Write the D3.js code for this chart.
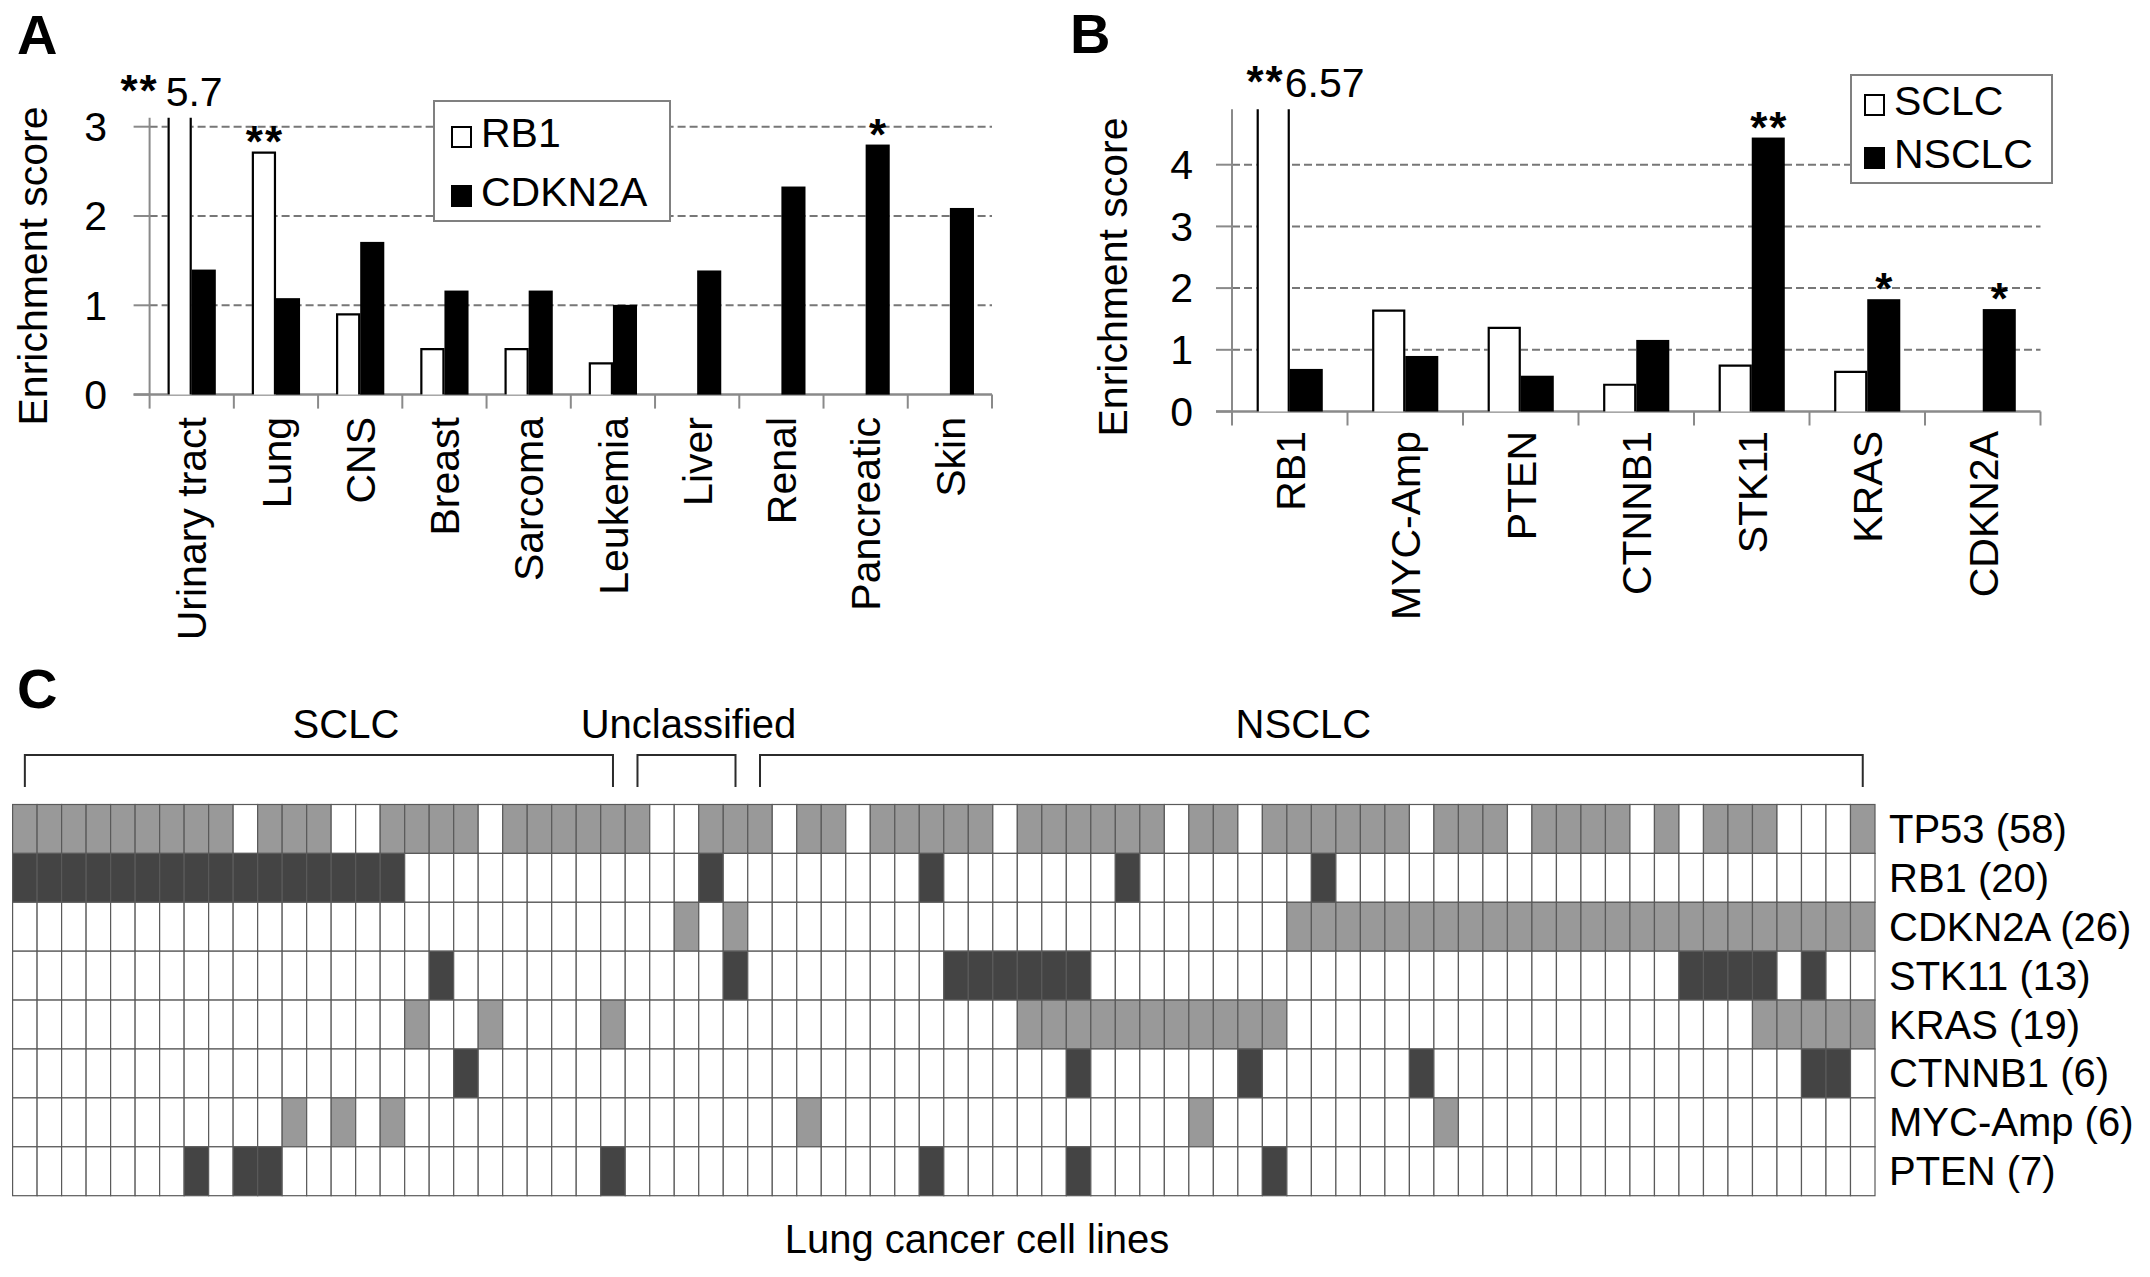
<!DOCTYPE html>
<html><head><meta charset="utf-8">
<script src="https://cdn.jsdelivr.net/npm/d3@7"></script>
<style>
html,body{margin:0;padding:0;background:#fff;}
svg{display:block;}
text{font-family:"Liberation Sans",Arial,Helvetica,sans-serif;fill:#000;}
</style>
</head><body>
<svg id="chart" width="2150" height="1277"></svg>
<script>
// ---------------- Panel A data ----------------
const tissues = ["Urinary tract","Lung","CNS","Breast","Sarcoma","Leukemia","Liver","Renal","Pancreatic","Skin"];
const seriesA = ["RB1","CDKN2A"];
const rb1Scores    = [5.7, 2.72, 0.91, 0.52, 0.52, 0.36, 0, 0, 0, 0];
const cdkn2aScores = [1.40, 1.08, 1.71, 1.165, 1.165, 1.005, 1.39, 2.33, 2.80, 2.09];
const sigA = [
  {cat:"Urinary tract", series:"RB1", mark:"**"},
  {cat:"Lung", series:"RB1", mark:"**"},
  {cat:"Pancreatic", series:"CDKN2A", mark:"*"}
];
const ticksA = [0,1,2,3];

// ---------------- Panel B data ----------------
const genesB = ["RB1","MYC-Amp","PTEN","CTNNB1","STK11","KRAS","CDKN2A"];
const seriesB = ["SCLC","NSCLC"];
const sclcScores  = [6.57, 1.65, 1.37, 0.45, 0.76, 0.66, 0];
const nsclcScores = [0.69, 0.90, 0.58, 1.16, 4.44, 1.82, 1.66];
const sigB = [
  {cat:"RB1", series:"SCLC", mark:"**"},
  {cat:"STK11", series:"NSCLC", mark:"**"},
  {cat:"KRAS", series:"NSCLC", mark:"*"},
  {cat:"CDKN2A", series:"NSCLC", mark:"*"}
];
const ticksB = [0,1,2,3,4];

// ---------------- Panel C data ----------------
const cellLineCount = 76;
const subtypeNames = ["SCLC","Unclassified","NSCLC"];
const subtypeFirst = [0, 25, 30];
const subtypeLast  = [24, 29, 75];
const genesC = ["TP53","RB1","CDKN2A","STK11","KRAS","CTNNB1","MYC-Amp","PTEN"];
const mutationCounts = [58, 20, 26, 13, 19, 6, 6, 7];
// one character per cell line: 1 = altered, 0 = not altered
const alterations = [
  "1111111110"+"1110011110"+"1111110011"+"1011011111"+"0111111011"+"0111111011"+"1011110101"+"110001",
  "1111111111"+"1111110000"+"0000000010"+"0000000100"+"0000010000"+"0001000000"+"0000000000"+"000000",
  "0000000000"+"0000000000"+"0000000101"+"0000000000"+"0000000000"+"0011111111"+"1111111111"+"111111",
  "0000000000"+"0000000100"+"0000000001"+"0000000011"+"1111000000"+"0000000000"+"0000000011"+"110100",
  "0000000000"+"0000001001"+"0000100000"+"0000000000"+"0111111111"+"1100000000"+"0000000000"+"011111",
  "0000000000"+"0000000010"+"0000000000"+"0000000000"+"0001000000"+"1000000100"+"0000000000"+"000110",
  "0000000000"+"0101010000"+"0000000000"+"0010000000"+"0000000010"+"0000000010"+"0000000000"+"000000",
  "0000000101"+"1000000000"+"0000100000"+"0000000100"+"0001000000"+"0100000000"+"0000000000"+"000000"
];

// ---------------- drawing ----------------
const svg = d3.select("#chart");
const FS = 41;
const AXIS = "#8a8a8a";

function barPanel(cfg){
  const g = svg.append("g");
  const x = d3.scaleBand().domain(cfg.cats).range([cfg.x0, cfg.x1]).padding(0);
  const y = d3.scaleLinear().domain([0, cfg.yMax]).range([cfg.zeroY, cfg.zeroY - cfg.yMax*cfg.unit]);
  const bw = x.bandwidth()*0.286;
  const sub = d3.scaleBand().domain(cfg.series).range([0, 2*bw]);
  const barX = (cat, s) => x(cat) + x.bandwidth()/2 - bw + sub(s);
  const topY = y(cfg.yMax);

  // gridlines
  g.selectAll(".grid").data(cfg.ticks.filter(t=>t>0)).join("line")
    .attr("x1", cfg.x0).attr("x2", cfg.x1)
    .attr("y1", d=>y(d)).attr("y2", d=>y(d))
    .attr("stroke", "#777").attr("stroke-width", 2).attr("stroke-dasharray", "8,4");
  // y tick marks
  g.selectAll(".yt").data(cfg.ticks).join("line")
    .attr("x1", cfg.x0-16).attr("x2", cfg.x0)
    .attr("y1", d=>y(d)).attr("y2", d=>y(d))
    .attr("stroke", AXIS).attr("stroke-width", 2);
  // axes
  g.append("line").attr("x1", cfg.x0).attr("x2", cfg.x0).attr("y1", topY).attr("y2", cfg.zeroY)
    .attr("stroke", AXIS).attr("stroke-width", 2);
  g.append("line").attr("x1", cfg.x0-16).attr("x2", cfg.x1).attr("y1", cfg.zeroY).attr("y2", cfg.zeroY)
    .attr("stroke", AXIS).attr("stroke-width", 2.5);
  // category boundary ticks
  const bounds = cfg.cats.map(c=>x(c)).concat([cfg.x1]);
  g.selectAll(".xt").data(bounds).join("line")
    .attr("x1", d=>d).attr("x2", d=>d).attr("y1", cfg.zeroY).attr("y2", cfg.zeroY+14)
    .attr("stroke", AXIS).attr("stroke-width", 2);

  // bars
  const rows = [];
  cfg.cats.forEach((c,i)=>cfg.series.forEach((s,j)=>rows.push({cat:c, s, v:cfg.values[j][i], j})));
  rows.filter(d=>d.v>0).forEach(d=>{
    const bx = barX(d.cat, d.s);
    const clipped = d.v > cfg.yMax;
    const ty = y(Math.min(d.v, cfg.yMax));
    g.append("rect").attr("x", bx).attr("y", ty).attr("width", bw).attr("height", cfg.zeroY-ty)
      .attr("fill", d.j===0 ? "#fff" : "#000");
    if(d.j===0){
      const p = clipped
        ? `M${bx+1},${ty}V${cfg.zeroY}M${bx+bw-1},${cfg.zeroY}V${ty}`
        : `M${bx+1},${cfg.zeroY}V${ty+1}H${bx+bw-1}V${cfg.zeroY}`;
      g.append("path").attr("d", p).attr("fill","none").attr("stroke","#000").attr("stroke-width",2.2);
    }
  });

  // y tick labels
  g.selectAll(".yl").data(cfg.ticks).join("text")
    .attr("x", cfg.labelX).attr("y", d=>y(d)).attr("dy","0.35em")
    .attr("text-anchor","end").attr("font-size", FS).text(d=>d);
  // category labels
  g.selectAll(".cl").data(cfg.cats).join("text")
    .attr("transform", d=>`translate(${x(d)+x.bandwidth()/2},${cfg.catLabelY}) rotate(-90)`)
    .attr("dy","0.36em").attr("text-anchor","end").attr("font-size", FS).text(d=>d);
  // axis title
  g.append("text").attr("transform", `translate(${cfg.titleX},${cfg.titleY}) rotate(-90)`)
    .attr("text-anchor","middle").attr("font-size", FS).text("Enrichment score");

  // significance marks
  cfg.sig.forEach(m=>{
    const i = cfg.cats.indexOf(m.cat), j = cfg.series.indexOf(m.series);
    const v = cfg.values[j][i];
    const bx = barX(m.cat, m.series);
    if(v > cfg.yMax){
      const vx = cfg.clipLabelAnchor==="left" ? bx - 2 : bx + bw - 5;
      const by = topY - 12;
      g.append("text").attr("x", vx).attr("y", by).attr("font-size", FS).text(v);
      g.append("text").attr("x", vx - cfg.starGap).attr("y", by).attr("text-anchor","end")
        .attr("font-size", 44).attr("font-weight","bold").attr("letter-spacing", 2).text(m.mark);
    } else {
      g.append("text").attr("x", bx + bw/2 + 1).attr("y", y(v) + 5).attr("text-anchor","middle")
        .attr("font-size", 44).attr("font-weight","bold").attr("letter-spacing", 2).text(m.mark);
    }
  });

  // legend
  const L = cfg.legend;
  g.append("rect").attr("x", L.x).attr("y", L.y).attr("width", L.w).attr("height", L.h)
    .attr("fill","#fff").attr("stroke","#808080").attr("stroke-width",2);
  cfg.series.forEach((s,j)=>{
    const base = L.y + L.first + j*L.step;
    g.append("rect").attr("x", L.x + L.pad).attr("y", base-20).attr("width", 19).attr("height", 20)
      .attr("fill", j===0 ? "#fff" : "#000").attr("stroke","#000").attr("stroke-width", 2);
    g.append("text").attr("x", L.x + L.pad + 29).attr("y", base).attr("font-size", FS).text(s);
  });
}

barPanel({
  cats: tissues, series: seriesA, values: [rb1Scores, cdkn2aScores],
  x0: 149.6, x1: 992, zeroY: 394.6, unit: 89.3, yMax: 3.1, ticks: ticksA,
  labelX: 107, catLabelY: 417, titleX: 47, titleY: 266,
  sig: sigA, clipLabelAnchor: "left", starGap: 7,
  legend: {x: 434, y: 101, w: 236, h: 120, pad: 18, first: 46, step: 59}
});
barPanel({
  cats: genesB, series: seriesB, values: [sclcScores, nsclcScores],
  x0: 1232, x1: 2040.5, zeroY: 411.5, unit: 61.7, yMax: 4.9, ticks: ticksB,
  labelX: 1193, catLabelY: 431, titleX: 1127, titleY: 277,
  sig: sigB, clipLabelAnchor: "right", starGap: 0,
  legend: {x: 1851, y: 75, w: 201, h: 108, pad: 14, first: 40, step: 53}
});

// panel letters
[["A",17,54],["B",1070,53],["C",17,708]].forEach(([t,x,y])=>{
  svg.append("text").attr("x",x).attr("y",y).attr("font-size",56).attr("font-weight","bold").text(t);
});

// ---------------- Panel C heatmap ----------------
const hx = d3.scaleBand().domain(d3.range(cellLineCount)).range([12.6, 1875]);
const hy = d3.scaleBand().domain(genesC).range([804.5, 1195.7]);
const shade = {"TP53":"#999999","CDKN2A":"#999999","KRAS":"#999999","MYC-Amp":"#999999",
               "RB1":"#444444","STK11":"#444444","CTNNB1":"#444444","PTEN":"#444444"};
const hm = svg.append("g");
const cells = [];
genesC.forEach((gname,r)=>{
  for(let c=0;c<cellLineCount;c++) cells.push({gname, c, on: alterations[r][c]==="1"});
});
hm.selectAll("rect").data(cells).join("rect")
  .attr("x", d=>hx(d.c)).attr("y", d=>hy(d.gname))
  .attr("width", hx.bandwidth()).attr("height", hy.bandwidth())
  .attr("fill", d=>d.on ? shade[d.gname] : "#fff")
  .attr("stroke", "#5a5a5a").attr("stroke-width", 1.2);
hm.selectAll(".rl").data(genesC).join("text")
  .attr("x", 1889).attr("y", d=>hy(d)+hy.bandwidth()/2).attr("dy","0.35em")
  .attr("font-size", 40).text((d,i)=>`${d} (${mutationCounts[i]})`);

// brackets
const labelShift = [27, 2, -8];
subtypeNames.forEach((name,i)=>{
  const xa = hx(subtypeFirst[i]) + hx.bandwidth()/2;
  const xb = hx(subtypeLast[i]) + hx.bandwidth()/2;
  svg.append("path").attr("d", `M${xa},787V755H${xb}V787`)
    .attr("fill","none").attr("stroke","#2b2b2b").attr("stroke-width",2);
  svg.append("text").attr("x", (xa+xb)/2 + labelShift[i]).attr("y", 738)
    .attr("text-anchor","middle").attr("font-size",40).text(name);
});
svg.append("text").attr("x", 977).attr("y", 1253).attr("text-anchor","middle")
  .attr("font-size", 40).text("Lung cancer cell lines");
</script>
</body></html>
